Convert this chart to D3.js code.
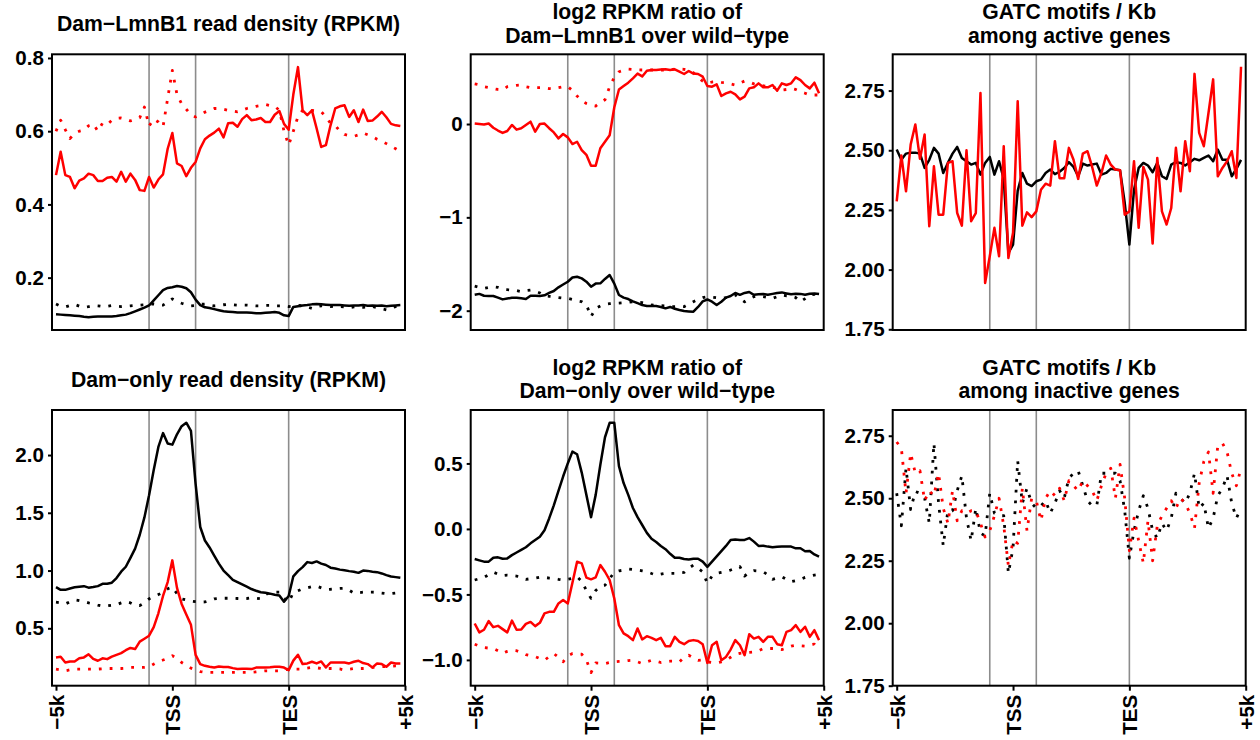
<!DOCTYPE html>
<html>
<head>
<meta charset="utf-8">
<title>DamID profiles around genes</title>
<script src="https://d3js.org/d3.v7.min.js"></script>
<style>
  body { margin: 0; background: #fff; }
  text { font-family: "Liberation Sans", Arial, sans-serif; font-weight: bold; }
</style>
</head>
<body>
<svg width="1260" height="740"></svg>
<script>
// 25 bins per segment: -5k -> TSS -> TES -> +5k
const binPos = d3.range(75).map(i => i / 25);
const xTickPos = [0, 1, 2, 3];
const xTickLabels = ["−5k", "TSS", "TES", "+5k"];
const guidePos = [0.8, 1.2, 2];

// Dam-LmnB1 read density (RPKM)
const lmnRed = [0.480,0.544,0.480,0.475,0.444,0.465,0.471,0.484,0.480,0.464,
  0.464,0.473,0.475,0.462,0.489,0.462,0.484,0.467,0.439,0.437,
  0.475,0.446,0.468,0.482,0.552,0.595,0.512,0.505,0.477,0.500,
  0.516,0.553,0.578,0.588,0.596,0.607,0.583,0.622,0.623,0.612,
  0.633,0.644,0.630,0.632,0.636,0.625,0.625,0.645,0.655,0.620,
  0.604,0.700,0.775,0.657,0.644,0.657,0.608,0.557,0.562,0.616,
  0.662,0.668,0.671,0.639,0.657,0.625,0.659,0.628,0.629,0.640,
  0.653,0.638,0.620,0.616,0.614];
const lmnRedDot = [0.600,0.630,0.604,0.580,0.594,0.600,0.603,0.615,0.620,0.600,
  0.622,0.618,0.630,0.635,0.636,0.633,0.628,0.632,0.637,0.666,
  0.614,0.633,0.625,0.612,0.690,0.766,0.700,0.675,0.660,0.645,
  0.639,0.645,0.652,0.657,0.662,0.662,0.660,0.657,0.655,0.653,
  0.657,0.662,0.665,0.668,0.670,0.673,0.670,0.668,0.657,0.600,
  0.562,0.600,0.640,0.657,0.657,0.657,0.655,0.653,0.640,0.621,
  0.616,0.600,0.591,0.588,0.586,0.590,0.595,0.590,0.585,0.578,
  0.573,0.566,0.559,0.552,0.544];
const lmnBlack = [0.100,0.099,0.098,0.097,0.096,0.095,0.093,0.092,0.093,0.094,
  0.094,0.094,0.094,0.095,0.097,0.099,0.103,0.108,0.113,0.118,
  0.124,0.138,0.152,0.166,0.172,0.174,0.177,0.175,0.171,0.160,
  0.140,0.125,0.119,0.117,0.114,0.111,0.108,0.107,0.106,0.105,
  0.105,0.105,0.104,0.103,0.103,0.104,0.105,0.106,0.104,0.097,
  0.095,0.120,0.122,0.124,0.125,0.127,0.128,0.127,0.126,0.125,
  0.125,0.125,0.124,0.123,0.124,0.124,0.125,0.123,0.124,0.123,
  0.124,0.122,0.123,0.124,0.125];
const lmnBlackDot = [0.128,0.122,0.120,0.124,0.127,0.122,0.119,0.121,0.124,0.123,
  0.121,0.122,0.124,0.122,0.121,0.122,0.123,0.124,0.125,0.126,
  0.127,0.128,0.126,0.125,0.133,0.142,0.135,0.130,0.126,0.123,
  0.124,0.127,0.128,0.125,0.123,0.124,0.126,0.127,0.126,0.125,
  0.125,0.125,0.124,0.123,0.123,0.124,0.124,0.123,0.123,0.123,
  0.121,0.122,0.124,0.123,0.120,0.116,0.121,0.123,0.122,0.121,
  0.122,0.121,0.120,0.118,0.120,0.121,0.119,0.120,0.121,0.118,
  0.115,0.112,0.118,0.121,0.122];

// log2 ratio Dam-LmnB1 / wild-type
const ratioLmnRed = [0.005,0.000,-0.005,0.005,-0.040,-0.070,-0.095,-0.075,-0.010,-0.060,
  -0.045,-0.010,0.025,-0.082,0.000,0.005,-0.045,-0.090,-0.154,-0.107,
  -0.143,-0.215,-0.190,-0.279,-0.330,-0.446,-0.446,-0.260,-0.190,-0.120,
  0.180,0.370,0.407,0.443,0.490,0.540,0.510,0.571,0.579,0.579,
  0.583,0.586,0.579,0.586,0.561,0.536,0.568,0.540,0.536,0.507,
  0.407,0.400,0.425,0.300,0.329,0.346,0.318,0.264,0.293,0.382,
  0.393,0.436,0.393,0.393,0.418,0.357,0.436,0.418,0.436,0.500,
  0.471,0.418,0.382,0.443,0.329];
const ratioLmnRedDot = [0.430,0.420,0.400,0.390,0.380,0.370,0.365,0.400,0.407,0.415,
  0.418,0.400,0.390,0.389,0.389,0.389,0.380,0.376,0.390,0.400,
  0.400,0.360,0.300,0.250,0.220,0.200,0.193,0.230,0.260,0.400,
  0.500,0.560,0.575,0.589,0.585,0.580,0.579,0.579,0.579,0.579,
  0.579,0.579,0.580,0.589,0.588,0.586,0.575,0.550,0.500,0.460,
  0.436,0.450,0.454,0.446,0.443,0.430,0.418,0.440,0.461,0.450,
  0.430,0.418,0.410,0.400,0.393,0.380,0.364,0.370,0.382,0.370,
  0.346,0.330,0.311,0.311,0.311];
const ratioLmnBlack = [-1.830,-1.820,-1.840,-1.843,-1.843,-1.860,-1.879,-1.870,-1.861,-1.861,
  -1.868,-1.875,-1.840,-1.840,-1.843,-1.835,-1.810,-1.789,-1.750,-1.720,
  -1.690,-1.645,-1.636,-1.654,-1.689,-1.743,-1.710,-1.707,-1.660,-1.618,
  -1.710,-1.832,-1.860,-1.875,-1.900,-1.920,-1.940,-1.950,-1.950,-1.950,
  -1.960,-1.975,-1.960,-1.980,-1.993,-2.004,-2.008,-2.011,-1.960,-1.900,
  -1.880,-1.904,-1.939,-1.904,-1.860,-1.843,-1.810,-1.830,-1.810,-1.800,
  -1.830,-1.825,-1.822,-1.830,-1.820,-1.810,-1.804,-1.815,-1.825,-1.818,
  -1.820,-1.830,-1.818,-1.815,-1.821];
const ratioLmnBlackDot = [-1.736,-1.750,-1.761,-1.750,-1.743,-1.750,-1.765,-1.775,-1.779,-1.785,
  -1.796,-1.785,-1.779,-1.790,-1.810,-1.843,-1.846,-1.850,-1.860,-1.866,
  -1.868,-1.880,-1.895,-1.904,-1.935,-2.064,-1.975,-1.950,-1.932,-1.925,
  -1.921,-1.918,-1.914,-1.910,-1.904,-1.910,-1.914,-1.925,-1.939,-1.943,
  -1.946,-1.950,-1.957,-1.957,-1.957,-1.957,-1.930,-1.904,-1.880,-1.860,
  -1.850,-1.855,-1.861,-1.868,-1.860,-1.845,-1.832,-1.870,-1.904,-1.870,
  -1.850,-1.843,-1.850,-1.860,-1.868,-1.850,-1.832,-1.840,-1.843,-1.860,
  -1.904,-1.870,-1.832,-1.825,-1.821];

// GATC motifs / Kb, active genes
const gatcActBlack = [2.503,2.460,2.486,2.490,2.490,2.486,2.426,2.460,2.510,2.486,
  2.405,2.447,2.486,2.514,2.468,2.454,2.440,2.447,2.398,2.447,
  2.472,2.398,2.454,2.380,2.070,2.105,2.330,2.405,2.360,2.350,
  2.370,2.377,2.405,2.419,2.400,2.410,2.426,2.450,2.430,2.391,
  2.444,2.436,2.440,2.444,2.398,2.405,2.422,2.419,2.416,2.280,
  2.105,2.335,2.426,2.447,2.436,2.408,2.447,2.391,2.380,2.440,
  2.450,2.447,2.436,2.450,2.464,2.458,2.468,2.478,2.454,2.503,
  2.460,2.460,2.391,2.422,2.460];
const gatcActRed = [2.286,2.478,2.328,2.524,2.608,2.464,2.566,2.182,2.433,2.230,
  2.230,2.447,2.454,2.237,2.184,2.500,2.203,2.237,2.740,1.944,
  2.056,2.175,2.056,2.517,2.049,2.154,2.705,2.184,2.240,2.220,
  2.244,2.335,2.360,2.352,2.538,2.383,2.383,2.510,2.460,2.380,
  2.486,2.496,2.430,2.352,2.405,2.478,2.440,2.419,2.416,2.230,
  2.244,2.454,2.175,2.430,2.377,2.109,2.468,2.244,2.189,2.258,
  2.510,2.328,2.538,2.412,2.820,2.573,2.517,2.656,2.797,2.391,
  2.426,2.454,2.496,2.384,2.850];

// Dam-only read density (RPKM)
const damRed = [0.248,0.253,0.204,0.213,0.213,0.240,0.248,0.275,0.235,0.219,
  0.240,0.233,0.255,0.270,0.285,0.310,0.330,0.320,0.385,0.410,
  0.436,0.510,0.630,0.780,0.900,1.088,0.850,0.711,0.620,0.530,
  0.270,0.190,0.175,0.167,0.161,0.170,0.165,0.165,0.155,0.147,
  0.150,0.150,0.147,0.160,0.161,0.161,0.163,0.167,0.167,0.160,
  0.138,0.220,0.271,0.190,0.196,0.210,0.196,0.213,0.161,0.204,
  0.204,0.204,0.204,0.196,0.210,0.219,0.199,0.190,0.161,0.196,
  0.190,0.167,0.204,0.196,0.196];
const damRedDot = [0.147,0.140,0.132,0.140,0.147,0.147,0.147,0.147,0.147,0.147,
  0.150,0.152,0.152,0.152,0.152,0.155,0.161,0.161,0.161,0.161,
  0.165,0.190,0.210,0.225,0.240,0.262,0.240,0.204,0.180,0.155,
  0.140,0.125,0.118,0.118,0.118,0.118,0.118,0.118,0.118,0.118,
  0.118,0.118,0.120,0.123,0.128,0.132,0.132,0.132,0.132,0.140,
  0.147,0.147,0.147,0.147,0.155,0.161,0.158,0.152,0.152,0.152,
  0.152,0.148,0.138,0.145,0.152,0.152,0.152,0.155,0.161,0.164,
  0.167,0.170,0.172,0.175,0.175];
const damBlack = [0.856,0.833,0.833,0.845,0.855,0.860,0.865,0.852,0.857,0.865,
  0.885,0.885,0.895,0.935,0.990,1.033,1.110,1.190,1.310,1.460,
  1.652,1.870,2.070,2.190,2.100,2.090,2.180,2.250,2.280,2.210,
  1.750,1.377,1.260,1.200,1.130,1.060,1.000,0.960,0.920,0.900,
  0.880,0.860,0.840,0.825,0.812,0.807,0.800,0.790,0.784,0.730,
  0.780,0.950,0.995,1.030,1.073,1.065,1.079,1.060,1.048,1.025,
  1.018,1.008,1.002,0.995,0.990,0.980,1.000,0.997,0.990,0.986,
  0.975,0.960,0.948,0.943,0.937];
const damBlackDot = [0.726,0.720,0.711,0.730,0.746,0.740,0.732,0.720,0.711,0.700,
  0.691,0.695,0.700,0.703,0.720,0.732,0.720,0.700,0.697,0.720,
  0.755,0.775,0.792,0.810,0.842,0.856,0.800,0.755,0.745,0.736,
  0.730,0.726,0.728,0.740,0.755,0.758,0.760,0.760,0.760,0.758,
  0.755,0.758,0.763,0.760,0.755,0.790,0.813,0.813,0.813,0.760,
  0.726,0.810,0.825,0.842,0.850,0.860,0.865,0.850,0.835,0.838,
  0.842,0.845,0.847,0.830,0.805,0.808,0.813,0.813,0.813,0.810,
  0.805,0.800,0.800,0.805,0.807];

// log2 ratio Dam-only / wild-type
const ratioDamRed = [-0.722,-0.790,-0.770,-0.704,-0.750,-0.740,-0.765,-0.790,-0.700,-0.770,
  -0.768,-0.725,-0.710,-0.742,-0.717,-0.645,-0.633,-0.633,-0.569,-0.543,
  -0.569,-0.411,-0.250,-0.263,-0.372,-0.385,-0.370,-0.276,-0.327,-0.390,
  -0.531,-0.735,-0.798,-0.819,-0.849,-0.760,-0.844,-0.819,-0.832,-0.849,
  -0.832,-0.895,-0.895,-0.824,-0.862,-0.880,-0.855,-0.849,-0.855,-0.880,
  -1.023,-0.888,-0.862,-1.003,-0.977,-0.921,-0.849,-0.888,-0.964,-0.804,
  -0.837,-0.824,-0.862,-0.824,-0.824,-0.880,-0.888,-0.786,-0.773,-0.735,
  -0.786,-0.747,-0.824,-0.773,-0.849];
const ratioDamRedDot = [-0.880,-0.895,-0.906,-0.910,-0.913,-0.930,-0.950,-0.935,-0.926,-0.930,
  -0.945,-0.960,-0.968,-0.975,-0.990,-1.003,-0.975,-0.952,-0.980,-1.015,
  -0.970,-0.952,-0.955,-0.957,-1.000,-1.097,-1.023,-1.025,-1.028,-1.020,
  -1.015,-1.012,-1.010,-1.005,-1.003,-1.015,-1.028,-1.015,-1.003,-1.010,
  -1.020,-1.015,-1.010,-1.010,-1.015,-0.980,-0.964,-0.985,-1.003,-1.000,
  -1.015,-1.020,-1.023,-1.015,-1.003,-0.980,-0.959,-0.950,-0.946,-0.942,
  -0.939,-0.930,-0.913,-0.913,-0.913,-0.915,-0.921,-0.910,-0.895,-0.888,
  -0.892,-0.895,-0.885,-0.880,-0.921];
const ratioDamBlack = [-0.230,-0.240,-0.250,-0.250,-0.220,-0.217,-0.228,-0.225,-0.200,-0.180,
  -0.160,-0.140,-0.110,-0.085,-0.060,-0.010,0.080,0.180,0.290,0.400,
  0.500,0.590,0.570,0.430,0.260,0.090,0.260,0.490,0.700,0.810,
  0.810,0.480,0.350,0.260,0.160,0.090,0.030,-0.030,-0.075,-0.100,
  -0.130,-0.155,-0.190,-0.220,-0.220,-0.230,-0.233,-0.228,-0.228,-0.250,
  -0.290,-0.250,-0.210,-0.170,-0.130,-0.085,-0.080,-0.084,-0.084,-0.070,
  -0.097,-0.130,-0.128,-0.135,-0.140,-0.137,-0.135,-0.135,-0.135,-0.148,
  -0.148,-0.170,-0.168,-0.195,-0.212];
const ratioDamBlackDot = [-0.390,-0.380,-0.370,-0.350,-0.330,-0.345,-0.357,-0.353,-0.355,-0.360,
  -0.375,-0.385,-0.380,-0.375,-0.368,-0.370,-0.375,-0.378,-0.385,-0.390,
  -0.385,-0.378,-0.365,-0.400,-0.470,-0.530,-0.470,-0.440,-0.430,-0.380,
  -0.330,-0.320,-0.315,-0.306,-0.310,-0.314,-0.320,-0.327,-0.340,-0.352,
  -0.345,-0.339,-0.339,-0.339,-0.335,-0.332,-0.300,-0.276,-0.300,-0.327,
  -0.416,-0.360,-0.339,-0.332,-0.325,-0.314,-0.300,-0.288,-0.360,-0.330,
  -0.319,-0.322,-0.327,-0.350,-0.385,-0.375,-0.365,-0.385,-0.403,-0.395,
  -0.385,-0.370,-0.360,-0.352,-0.347];

// GATC motifs / Kb, inactive genes
const gatcInBlack = [2.520,2.390,2.620,2.455,2.527,2.520,2.500,2.400,2.720,2.480,
  2.310,2.450,2.450,2.530,2.590,2.420,2.330,2.460,2.360,2.350,
  2.520,2.440,2.430,2.430,2.200,2.300,2.650,2.480,2.540,2.480,
  2.460,2.470,2.490,2.440,2.480,2.530,2.500,2.580,2.600,2.610,
  2.550,2.490,2.470,2.470,2.600,2.600,2.600,2.600,2.570,2.450,
  2.260,2.370,2.450,2.510,2.460,2.370,2.340,2.400,2.370,2.420,
  2.520,2.500,2.480,2.520,2.600,2.460,2.480,2.380,2.420,2.510,
  2.540,2.590,2.480,2.420,2.460];
const gatcInRed = [2.725,2.700,2.520,2.680,2.600,2.610,2.490,2.530,2.510,2.600,
  2.460,2.400,2.530,2.410,2.450,2.440,2.450,2.450,2.400,2.345,
  2.370,2.430,2.500,2.390,2.230,2.330,2.320,2.540,2.370,2.500,
  2.490,2.410,2.500,2.530,2.510,2.540,2.490,2.570,2.550,2.530,
  2.570,2.550,2.530,2.490,2.550,2.600,2.620,2.500,2.635,2.500,
  2.290,2.420,2.330,2.240,2.410,2.250,2.390,2.430,2.460,2.490,
  2.460,2.500,2.480,2.440,2.380,2.560,2.647,2.685,2.520,2.710,
  2.720,2.685,2.600,2.550,2.620];

const RED = "#ff0000", BLACK = "#000000";
const f1 = d3.format(".1f"), f2 = d3.format(".2f"), f0 = d3.format("d");

const panels = [
  { title: ["Dam−LmnB1 read density (RPKM)"], yDomain: [0.057, 0.81], yTicks: [0.2, 0.4, 0.6, 0.8], fmt: f1,
    series: [[lmnBlack, BLACK, false], [lmnBlackDot, BLACK, true], [lmnRed, RED, false], [lmnRedDot, RED, true]] },
  { title: ["log2 RPKM ratio of", "Dam−LmnB1 over wild−type"], yDomain: [-2.207, 0.747], yTicks: [-2, -1, 0], fmt: f0,
    series: [[ratioLmnBlack, BLACK, false], [ratioLmnBlackDot, BLACK, true], [ratioLmnRed, RED, false], [ratioLmnRedDot, RED, true]] },
  { title: ["GATC motifs / Kb", "among active genes"], yDomain: [1.747, 2.902], yTicks: [1.75, 2.0, 2.25, 2.5, 2.75], fmt: f2,
    series: [[gatcActBlack, BLACK, false], [gatcActRed, RED, false]] },
  { title: ["Dam−only read density (RPKM)"], yDomain: [0.003, 2.39], yTicks: [0.5, 1.0, 1.5, 2.0], fmt: f1,
    series: [[damBlack, BLACK, false], [damBlackDot, BLACK, true], [damRed, RED, false], [damRedDot, RED, true]] },
  { title: ["log2 RPKM ratio of", "Dam−only over wild−type"], yDomain: [-1.197, 0.908], yTicks: [-1.0, -0.5, 0.0, 0.5], fmt: f1,
    series: [[ratioDamBlack, BLACK, false], [ratioDamBlackDot, BLACK, true], [ratioDamRed, RED, false], [ratioDamRedDot, RED, true]] },
  { title: ["GATC motifs / Kb", "among inactive genes"], yDomain: [1.75, 2.853], yTicks: [1.75, 2.0, 2.25, 2.5, 2.75], fmt: f2,
    series: [[gatcInBlack, BLACK, true], [gatcInRed, RED, true]] }
];

const svg = d3.select("svg");
svg.append("rect").attr("width", 1260).attr("height", 740).attr("fill", "#fff");

const colLeft = [52, 470.7, 892.7], rowTop = [54.3, 410];
const boxW = 353, boxH = 275.7;

panels.forEach((p, k) => {
  const row = Math.floor(k / 3), col = k % 3;
  const g = svg.append("g").attr("transform", `translate(${colLeft[col]},${rowTop[row]})`);

  const x = d3.scaleLinear().domain([0, 3]).range([4, boxW]);
  const y = d3.scaleLinear().domain(p.yDomain).range([boxH, 0]);

  // title, one or two lines
  const tY = p.title.length === 1 ? [-23] : [-35, -11.6];
  p.title.forEach((t, j) => {
    g.append("text")
      .attr("x", boxW / 2).attr("y", tY[j])
      .attr("text-anchor", "middle")
      .attr("font-size", 21.2)
      .text(t);
  });

  // grey guides at TSS-1k, TSS+1k and TES
  g.selectAll(".guide").data(guidePos).join("line")
    .attr("class", "guide")
    .attr("x1", d => x(d)).attr("x2", d => x(d))
    .attr("y1", 0).attr("y2", boxH)
    .attr("stroke", "#8c8c8c").attr("stroke-width", 1.6);

  const line = d3.line().x((d, i) => x(binPos[i])).y(d => y(d));

  p.series.forEach(([vals, color, dotted]) => {
    g.append("path")
      .datum(vals)
      .attr("d", line)
      .attr("fill", "none")
      .attr("stroke", color)
      .attr("stroke-width", dotted ? 2.8 : 2.5)
      .attr("stroke-linejoin", "round")
      .attr("stroke-dasharray", dotted ? "2.8,8" : null);
  });

  g.append("rect")
    .attr("width", boxW).attr("height", boxH)
    .attr("fill", "none").attr("stroke", "#000").attr("stroke-width", 2);

  const ya = g.append("g")
    .call(d3.axisLeft(y).tickValues(p.yTicks).tickFormat(p.fmt).tickSize(4).tickPadding(4));
  ya.select(".domain").remove();
  ya.attr("font-size", 20.6).attr("font-family", null);
  ya.selectAll("line").attr("stroke-width", 2);

  if (row === 1) {
    const xa = g.append("g")
      .attr("transform", `translate(0,${boxH})`)
      .call(d3.axisBottom(x).tickValues(xTickPos).tickFormat((d, i) => xTickLabels[i]).tickSize(5));
    xa.select(".domain").remove();
    xa.attr("font-size", 20.6).attr("font-family", null);
    xa.selectAll("line").attr("stroke-width", 2);
    xa.selectAll("text")
      .attr("transform", "rotate(-90)")
      .attr("text-anchor", "end")
      .attr("x", -9).attr("y", 0)
      .attr("dy", "0.36em");
  }
});
</script>
</body>
</html>
